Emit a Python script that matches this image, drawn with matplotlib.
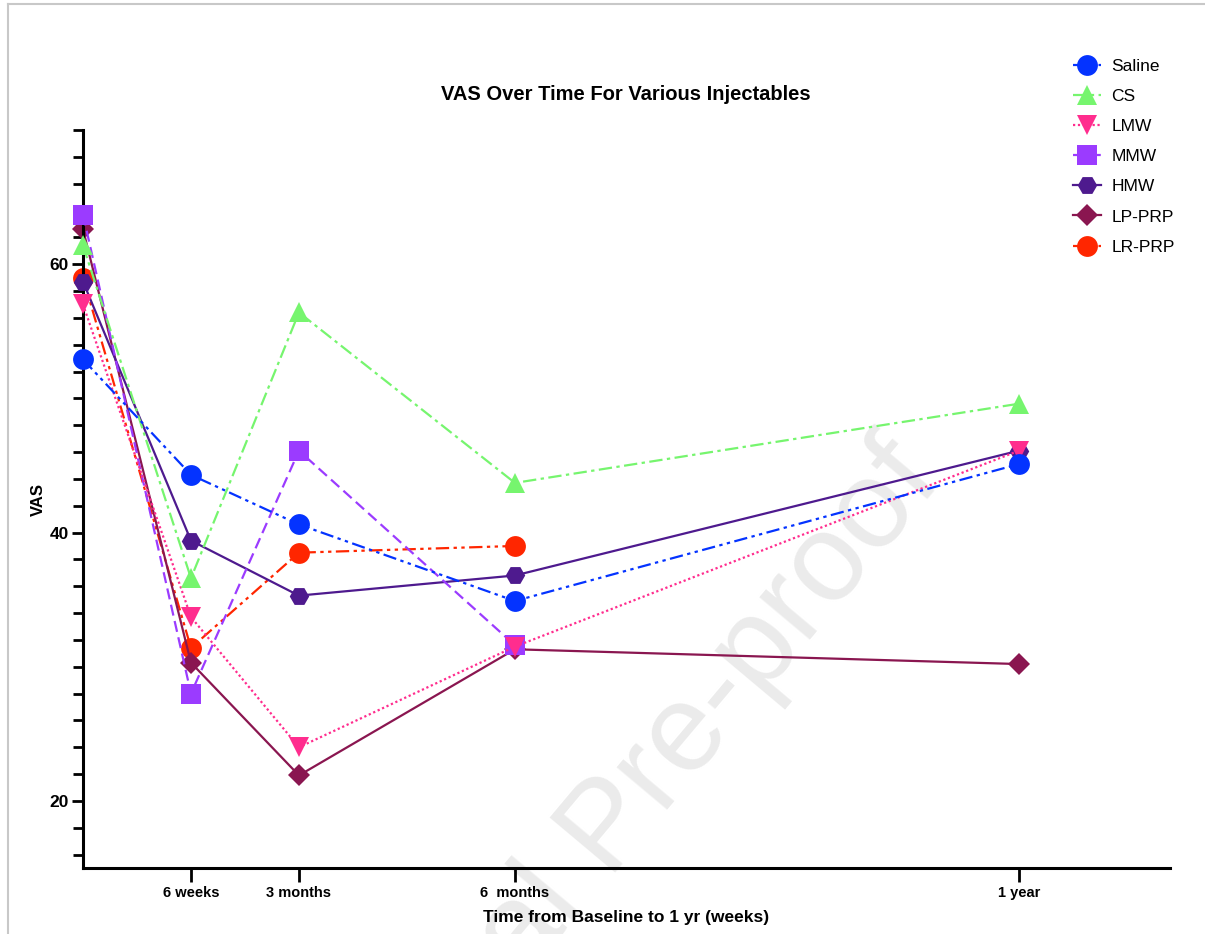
import matplotlib
matplotlib.use("Agg")
import matplotlib.pyplot as plt
from matplotlib.lines import Line2D
from matplotlib.ticker import MultipleLocator

plt.rcParams["font.family"] = ["Liberation Sans", "DejaVu Sans"]

# time points in weeks
weeks = [0, 6, 12, 24, 52]
tick_labels = ["6 weeks", "3 months", "6  months", "1 year"]

saline = [52.9, 44.3, 40.6, 34.9, 45.1]
cs = [61.4, 36.6, 56.4, 43.7, 49.6]
lmw = [57.0, 33.7, 24.0, 31.5, 46.1]
mmw = [63.7, 28.0, 46.1, 31.6, None]
hmw = [58.7, 39.4, 35.3, 36.8, 46.1]
lp_prp = [62.6, 30.3, 21.9, 31.3, 30.2]
lr_prp = [59.0, 31.4, 38.5, 39.0, None]

series = [
    ("Saline", saline, "#0433ff", "o", (0, (6, 2, 1.5, 2, 1.5, 2)), 15, 7),
    ("CS", cs, "#76f56e", "^", (0, (6, 2, 1.5, 2)), 15, 6),
    ("LMW", lmw, "#ff2d8e", "v", (0, (1, 1.2)), 15, 5),
    ("MMW", mmw, "#9b3bff", "s", (0, (5, 2.5)), 14, 4),
    ("HMW", hmw, "#4e1a8e", "H", "-", 14, 3),
    ("LP-PRP", lp_prp, "#8a1650", "D", "-", 11, 2),
    ("LR-PRP", lr_prp, "#ff2600", "o", (0, (6, 2, 1.5, 2, 1.5, 2)), 15, 1),
]

fig = plt.figure(figsize=(12.05, 9.34), dpi=100)
ax = fig.add_axes([83 / 1205, 1 - 868 / 934, (1170 - 83) / 1205, (868 - 130) / 934])
ax.patch.set_alpha(0)

handles = []
for name, vals, color, marker, ls, ms, z in series:
    xs = [w for w, v in zip(weeks, vals) if v is not None]
    ys = [v for v in vals if v is not None]
    (ln,) = ax.plot(xs, ys, color=color, linestyle=ls, linewidth=1.6,
                    marker=marker, markersize=ms, markeredgewidth=0,
                    label=name, zorder=z, clip_on=False)
    handles.append(ln)

ax.set_xlim(0, 60.4)
ax.set_ylim(15, 70)

for side in ["top", "right"]:
    ax.spines[side].set_visible(False)
for side in ["left", "bottom"]:
    ax.spines[side].set_linewidth(2.2)

ax.set_xticks(weeks[1:])
ax.set_xticklabels(tick_labels, fontsize=10.5, fontweight="bold")
ax.tick_params(axis="x", length=10, width=2, pad=3)

ax.set_yticks([20, 40, 60])
ax.yaxis.set_minor_locator(MultipleLocator(2))
ax.tick_params(axis="y", which="major", length=8, width=2, labelsize=12.5, pad=2)
ax.tick_params(axis="y", which="minor", length=7, width=2)
for lbl in ax.get_yticklabels():
    lbl.set_fontweight("bold")

ax.set_ylabel("VAS", fontsize=12, fontweight="bold", labelpad=3)
ax.set_xlabel("Time from Baseline to 1 yr (weeks)", fontsize=12.5, fontweight="bold", labelpad=7)
fig.text(626 / 1205, 1 - 95 / 934, "VAS Over Time For Various Injectables",
         fontsize=14.5, fontweight="bold", ha="center", va="center")

fig.legend(handles=handles, loc="upper left", bbox_to_anchor=(1066 / 1205, 1 - 52 / 934),
           frameon=False, fontsize=12.5, handlelength=1.6, labelspacing=0.86,
           handletextpad=0.6, borderaxespad=0)

# faint watermark
fig.text(0.505, 0.111, "Journal Pre-proof", fontsize=90, color="#ebebeb",
         rotation=50, ha="center", va="center", zorder=-10)

# screenshot frame
fig.add_artist(Line2D([8 / 1205, 8 / 1205], [0, 1 - 4 / 934], color="#c8c8c8", linewidth=1.5))
fig.add_artist(Line2D([8 / 1205, 1], [1 - 4 / 934, 1 - 4 / 934], color="#c8c8c8", linewidth=1.5))

fig.savefig("out.png", dpi=100)
